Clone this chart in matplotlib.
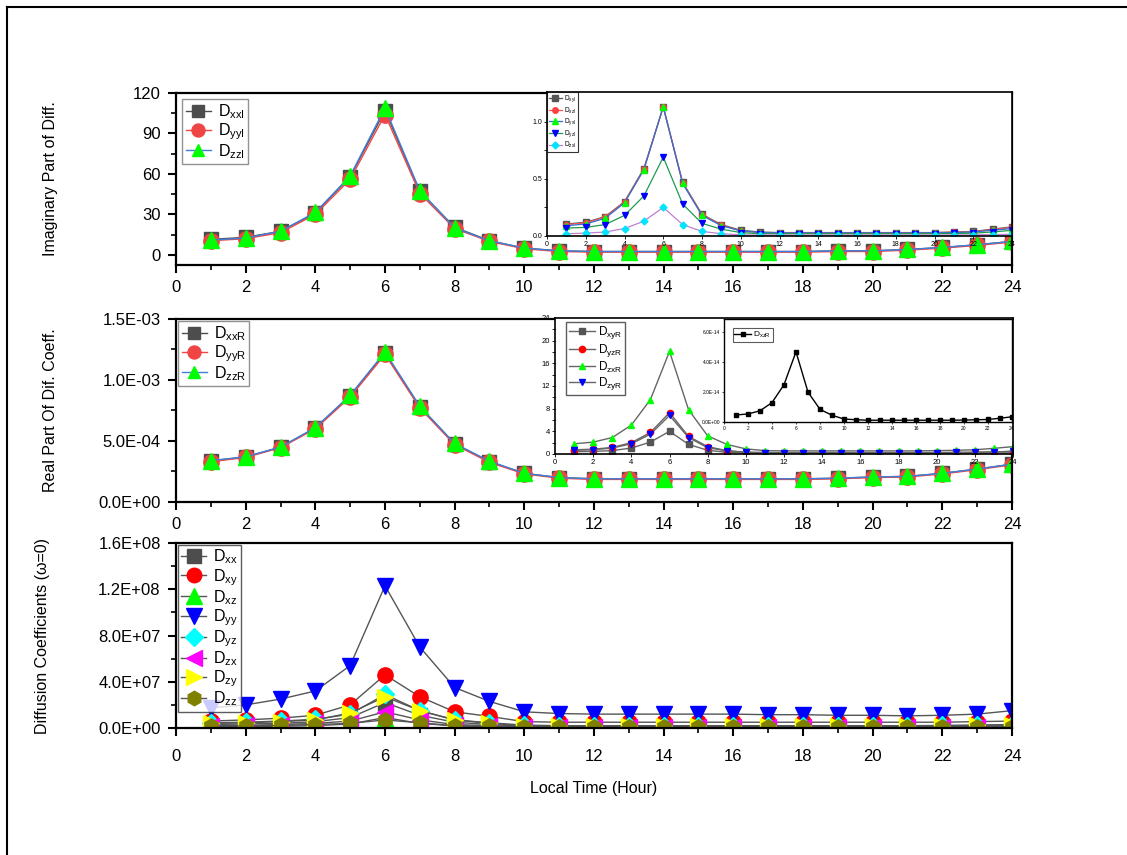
import numpy as np
import matplotlib
matplotlib.use('Agg')
import matplotlib.pyplot as plt
from matplotlib.lines import Line2D
from matplotlib.ticker import MultipleLocator, FormatStrFormatter

plt.rcParams['font.family'] = ['Liberation Sans', 'DejaVu Sans']
plt.rcParams['mathtext.default'] = 'regular'

hours = list(range(1, 25))

# top panel: imaginary part of diffusion coefficients
d_xxI = [11.5, 13, 17.5, 31, 58, 107, 47, 20.5, 10.5, 5, 3, 2.5, 2.5, 2.5, 2.5, 2.5, 2.5, 2.5, 3, 3, 4, 5.5, 7.5, 10]
d_yyI = [10.5, 12, 16.5, 30, 56, 104, 45.5, 19.5, 10, 4.5, 2.5, 2, 2, 2, 2, 2, 2, 2, 2.5, 2.5, 3.5, 5, 7, 9.5]
d_zzI = [11, 12.5, 17.5, 31.5, 58.5, 109, 47.5, 20, 10.5, 5, 3, 2.5, 2.5, 2.5, 2.5, 2.5, 2.5, 2.5, 3, 3, 4, 5.5, 7.5, 10]

# top inset
d_xyI = [0.105, 0.12, 0.17, 0.30, 0.59, 1.13, 0.47, 0.19, 0.10, 0.05, 0.035, 0.03, 0.03, 0.03, 0.03, 0.03, 0.03, 0.03, 0.03, 0.03, 0.035, 0.04, 0.06, 0.08]
d_xzI = [0.10, 0.115, 0.165, 0.295, 0.585, 1.13, 0.465, 0.185, 0.095, 0.045, 0.03, 0.028, 0.028, 0.028, 0.028, 0.028, 0.028, 0.028, 0.028, 0.03, 0.033, 0.038, 0.055, 0.075]
d_yxI = [0.09, 0.105, 0.155, 0.29, 0.58, 1.13, 0.46, 0.18, 0.09, 0.045, 0.03, 0.027, 0.027, 0.027, 0.027, 0.027, 0.027, 0.027, 0.027, 0.028, 0.03, 0.035, 0.05, 0.065]
d_yzI = [0.07, 0.075, 0.10, 0.18, 0.35, 0.69, 0.28, 0.11, 0.06, 0.03, 0.02, 0.02, 0.02, 0.02, 0.02, 0.02, 0.02, 0.02, 0.02, 0.02, 0.022, 0.025, 0.035, 0.05]
d_zxI = [0.02, 0.025, 0.035, 0.065, 0.13, 0.25, 0.10, 0.04, 0.02, 0.01, 0.008, 0.008, 0.008, 0.008, 0.008, 0.008, 0.008, 0.008, 0.008, 0.008, 0.009, 0.01, 0.012, 0.015]

# middle panel: real part
d_xxR = [3.36e-4, 3.7e-4, 4.5e-4, 6.05e-4, 8.7e-4, 1.22e-3, 7.8e-4, 4.75e-4, 3.3e-4, 2.35e-4, 2.0e-4, 1.9e-4, 1.9e-4, 1.9e-4, 1.9e-4, 1.9e-4, 1.9e-4, 1.9e-4, 1.95e-4, 2.05e-4, 2.1e-4, 2.35e-4, 2.7e-4, 3.1e-4]
d_yyR = [3.3e-4, 3.65e-4, 4.45e-4, 6.0e-4, 8.6e-4, 1.21e-3, 7.7e-4, 4.7e-4, 3.25e-4, 2.3e-4, 1.95e-4, 1.85e-4, 1.85e-4, 1.85e-4, 1.85e-4, 1.85e-4, 1.85e-4, 1.85e-4, 1.9e-4, 2.0e-4, 2.05e-4, 2.3e-4, 2.65e-4, 3.05e-4]
d_zzR = [3.4e-4, 3.7e-4, 4.5e-4, 6.1e-4, 8.75e-4, 1.23e-3, 7.85e-4, 4.8e-4, 3.35e-4, 2.35e-4, 2.0e-4, 1.9e-4, 1.9e-4, 1.9e-4, 1.9e-4, 1.9e-4, 1.9e-4, 1.9e-4, 1.95e-4, 2.05e-4, 2.1e-4, 2.35e-4, 2.7e-4, 3.1e-4]

# middle inset 1
d_xyR = [0.4, 0.45, 0.6, 1.05, 2.1, 4.0, 1.7, 0.65, 0.3, 0.15, 0.12, 0.12, 0.12, 0.12, 0.12, 0.12, 0.12, 0.12, 0.12, 0.12, 0.13, 0.14, 0.17, 0.2]
d_yzR = [0.75, 0.85, 1.15, 2.0, 3.8, 7.3, 3.1, 1.3, 0.6, 0.3, 0.25, 0.25, 0.25, 0.25, 0.25, 0.25, 0.25, 0.25, 0.25, 0.25, 0.27, 0.3, 0.37, 0.45]
d_zxR = [1.8, 2.1, 2.9, 5.1, 9.6, 18.1, 7.8, 3.2, 1.7, 0.9, 0.6, 0.55, 0.55, 0.55, 0.55, 0.55, 0.55, 0.55, 0.55, 0.6, 0.65, 0.75, 1.0, 1.3]
d_zyR = [0.65, 0.75, 1.05, 1.8, 3.5, 6.8, 2.9, 1.1, 0.55, 0.3, 0.25, 0.25, 0.25, 0.25, 0.25, 0.25, 0.25, 0.25, 0.25, 0.25, 0.27, 0.3, 0.35, 0.5]

# middle inset 2
d_xzR = [0.47e-14, 0.54e-14, 0.75e-14, 1.3e-14, 2.5e-14, 4.7e-14, 2.0e-14, 0.85e-14, 0.45e-14, 0.2e-14, 0.15e-14, 0.12e-14, 0.12e-14, 0.12e-14, 0.12e-14, 0.12e-14, 0.12e-14, 0.12e-14, 0.12e-14, 0.13e-14, 0.15e-14, 0.17e-14, 0.25e-14, 0.35e-14]

# bottom panel: omega = 0
d_xx = [3e6, 3.5e6, 4e6, 5.5e6, 9e6, 2.2e7, 1.1e7, 5e6, 3e6, 1.5e6, 1.2e6, 1.2e6, 1.2e6, 1.2e6, 1.2e6, 1.2e6, 1.2e6, 1.2e6, 1.2e6, 1.2e6, 1.2e6, 1.3e6, 1.5e6, 2e6]
d_xy = [6e6, 7e6, 8.5e6, 1.1e7, 2.0e7, 4.6e7, 2.7e7, 1.4e7, 1.0e7, 5.5e6, 5e6, 5e6, 5e6, 5e6, 5e6, 5e6, 5e6, 5e6, 5e6, 5e6, 5e6, 5e6, 5.5e6, 6e6]
d_xz = [1e6, 1.2e6, 1.5e6, 2e6, 3.5e6, 9e6, 4e6, 1.8e6, 1e6, 5e5, 4e5, 4e5, 4e5, 4e5, 4e5, 4e5, 4e5, 4e5, 4e5, 4e5, 4e5, 4e5, 5e5, 6e5]
d_yy = [1.75e7, 2.0e7, 2.5e7, 3.2e7, 5.4e7, 1.23e8, 7.0e7, 3.5e7, 2.3e7, 1.4e7, 1.25e7, 1.2e7, 1.2e7, 1.2e7, 1.2e7, 1.2e7, 1.15e7, 1.15e7, 1.1e7, 1.1e7, 1.05e7, 1.1e7, 1.2e7, 1.5e7]
d_yz = [4.5e6, 5e6, 6e6, 7.5e6, 1.2e7, 2.9e7, 1.5e7, 7e6, 4.5e6, 2.5e6, 2e6, 2e6, 2e6, 2e6, 2e6, 2e6, 2e6, 2e6, 2e6, 2e6, 2e6, 2.2e6, 2.5e6, 3e6]
d_zx = [2e6, 2.3e6, 3e6, 4e6, 6e6, 1.4e7, 7e6, 3e6, 2e6, 1e6, 8e5, 8e5, 8e5, 8e5, 8e5, 8e5, 8e5, 8e5, 8e5, 8e5, 8e5, 9e5, 1e6, 1.2e6]
d_zy = [4e6, 4.5e6, 5.5e6, 7e6, 1.3e7, 2.7e7, 1.5e7, 7e6, 4e6, 2e6, 1.8e6, 1.8e6, 1.8e6, 1.8e6, 1.8e6, 1.8e6, 1.8e6, 1.8e6, 1.8e6, 1.8e6, 1.8e6, 2e6, 2.3e6, 2.8e6]
d_zz = [1.5e6, 1.8e6, 2.2e6, 3e6, 4e6, 7e6, 4.5e6, 2e6, 1.3e6, 8e5, 6e5, 6e5, 6e5, 6e5, 6e5, 6e5, 6e5, 6e5, 6e5, 6e5, 6e5, 7e5, 8e5, 1e6]

fig = plt.figure(figsize=(11.27, 8.55), dpi=100)

# border lines around the page (top and left only)
fig.add_artist(Line2D([7/1127, 1], [1-7/855, 1-7/855], transform=fig.transFigure, color='k', lw=1.5))
fig.add_artist(Line2D([7/1127, 7/1127], [0, 1-7/855], transform=fig.transFigure, color='k', lw=1.5))

L, W = 176/1127, 836/1127
ax1 = fig.add_axes([L, 1-265/855, W, 172/855])
ax2 = fig.add_axes([L, 1-502/855, W, 183/855])
ax3 = fig.add_axes([L, 1-728/855, W, 185/855])


def style_main(ax):
    ax.set_xlim(0, 24)
    ax.xaxis.set_major_locator(MultipleLocator(2))
    ax.xaxis.set_minor_locator(MultipleLocator(1))
    for s in ax.spines.values():
        s.set_linewidth(1.6)
    ax.tick_params(which='major', direction='out', length=6, width=1.5, labelsize=12, pad=5)
    ax.tick_params(which='minor', direction='out', length=3.5, width=1.2)


def small_legend(ax, **kw):
    lg = ax.legend(loc='upper left', fancybox=False, handlelength=1.6, borderpad=0.2,
                   handletextpad=0.4, **kw)
    lg.get_frame().set_linewidth(1)
    return lg


gray, red, green, lblue = '#4d4d4d', '#f04545', '#00ff00', '#3f7fd8'

# ---- top panel
ax1.plot(hours, d_xxI, '-s', color=gray, mfc=gray, mec=gray, ms=10, lw=1, label=r'D$_{xxI}$')
ax1.plot(hours, d_yyI, '-o', color=red, mfc=red, mec=red, ms=11, lw=1, label=r'D$_{yyI}$')
ax1.plot(hours, d_zzI, '-^', color=lblue, mfc=green, mec=green, ms=11, lw=1, label=r'D$_{zzI}$')
style_main(ax1)
ax1.set_ylim(-7.5, 120)
ax1.yaxis.set_major_locator(MultipleLocator(30))
ax1.yaxis.set_minor_locator(MultipleLocator(15))
ax1.set_ylabel('Imaginary Part of Diff.', fontsize=11.5)
ax1.yaxis.set_label_coords(-0.141, 0.5)
small_legend(ax1, fontsize=11.5, edgecolor='#777777', borderaxespad=0.4, markerscale=0.85, labelspacing=0.0)

axi = fig.add_axes([547/1127, 1-236/855, 465/1127, 144/855])
ms_i = 4
axi.plot(hours, d_xyI, '-s', color='#555555', mfc='#555555', mec='#555555', ms=ms_i, lw=0.9, label=r'D$_{xyI}$')
axi.plot(hours, d_xzI, '-o', color='#ff5555', mfc='#ff4040', mec='#ff4040', ms=ms_i, lw=0.9, label=r'D$_{xzI}$')
axi.plot(hours, d_yxI, '-^', color='#2f6fd0', mfc=green, mec=green, ms=ms_i+0.5, lw=0.9, label=r'D$_{yxI}$')
axi.plot(hours, d_yzI, '-v', color='#1f9a50', mfc='#0000ff', mec='#0000ff', ms=ms_i+0.5, lw=0.9, label=r'D$_{yzI}$')
axi.plot(hours, d_zxI, '-D', color='#c080d0', mfc='#00e5ff', mec='#00e5ff', ms=ms_i-0.5, lw=0.9, label=r'D$_{zxI}$')
axi.set_xlim(0, 24)
axi.set_ylim(0, 1.26)
axi.xaxis.set_major_locator(MultipleLocator(2))
axi.yaxis.set_major_locator(MultipleLocator(0.5))
axi.yaxis.set_minor_locator(MultipleLocator(0.25))
axi.yaxis.set_major_formatter(FormatStrFormatter('%.1f'))
axi.tick_params(which='both', labelsize=5, length=2, width=0.6, pad=1.5)
for s in axi.spines.values():
    s.set_linewidth(1.2)
lg = axi.legend(loc='upper left', fontsize=4.8, fancybox=False, edgecolor='k', handlelength=2,
                borderpad=0.2, labelspacing=0.15, handletextpad=0.3, borderaxespad=0.05)
lg.get_frame().set_linewidth(0.8)

# ---- middle panel
ax2.plot(hours, d_xxR, '-s', color=gray, mfc=gray, mec=gray, ms=10, lw=1, label=r'D$_{xxR}$')
ax2.plot(hours, d_yyR, '-o', color=red, mfc=red, mec=red, ms=11, lw=1, label=r'D$_{yyR}$')
ax2.plot(hours, d_zzR, '-^', color=lblue, mfc=green, mec=green, ms=11, lw=1, label=r'D$_{zzR}$')
style_main(ax2)
ax2.set_ylim(0, 1.5e-3)
ax2.yaxis.set_major_locator(MultipleLocator(5e-4))
ax2.yaxis.set_minor_locator(MultipleLocator(2.5e-4))
ax2.yaxis.set_major_formatter(FormatStrFormatter('%.1E'))
ax2.set_ylabel('Real Part Of Dif. Coeff.', fontsize=11.5)
ax2.yaxis.set_label_coords(-0.141, 0.5)
small_legend(ax2, fontsize=11.5, edgecolor='#777777', borderaxespad=0.15, markerscale=0.85, labelspacing=0.0)

axm = fig.add_axes([555/1127, 1-454/855, 458/1127, 136/855])
lc = '#666666'
axm.plot(hours, d_xyR, '-s', color=lc, mfc='#555555', mec='#555555', ms=4.5, lw=1, label=r'D$_{xyR}$')
axm.plot(hours, d_yzR, '-o', color=lc, mfc='#ff0000', mec='#ff0000', ms=4.5, lw=1, label=r'D$_{yzR}$')
axm.plot(hours, d_zxR, '-^', color=lc, mfc=green, mec=green, ms=5, lw=1, label=r'D$_{zxR}$')
axm.plot(hours, d_zyR, '-v', color=lc, mfc='#0000ff', mec='#0000ff', ms=5, lw=1, label=r'D$_{zyR}$')
axm.set_xlim(0, 24)
axm.set_ylim(0, 24)
axm.xaxis.set_major_locator(MultipleLocator(2))
axm.yaxis.set_major_locator(MultipleLocator(4))
axm.yaxis.set_minor_locator(MultipleLocator(2))
axm.tick_params(which='both', labelsize=5.5, length=2, width=0.6, pad=1.5)
for s in axm.spines.values():
    s.set_linewidth(1.2)
lg = axm.legend(loc='upper left', bbox_to_anchor=(0.025, 0.97), fontsize=8.5, fancybox=False, edgecolor='#333333',
                handlelength=2.2, borderpad=0.2, labelspacing=0.05, handletextpad=0.3, borderaxespad=0)
lg.get_frame().set_linewidth(1)

axz = fig.add_axes([724/1127, 1-422/855, 288/1127, 103/855])
axz.plot(hours, d_xzR, '-s', color='k', mfc='k', mec='k', ms=3.2, lw=1, label=r'D$_{xzR}$')
axz.set_xlim(0, 24)
axz.set_ylim(0, 6.9e-14)
axz.xaxis.set_major_locator(MultipleLocator(2))
axz.yaxis.set_major_locator(MultipleLocator(2e-14))
axz.yaxis.set_major_formatter(FormatStrFormatter('%.1E'))
axz.tick_params(which='both', labelsize=3.5, length=1.5, width=0.5, pad=1.5)
for s in axz.spines.values():
    s.set_linewidth(1)
lg = axz.legend(loc='upper left', bbox_to_anchor=(0.03, 0.91), fontsize=6, fancybox=False, edgecolor='#333333',
                handlelength=2, borderpad=0.2, handletextpad=0.3, borderaxespad=0)
lg.get_frame().set_linewidth(0.8)

# ---- bottom panel
bl = '#555555'
series = [
    (d_xx, 's', '#4d4d4d', 10, r'D$_{xx}$'),
    (d_xy, 'o', '#ff0000', 11, r'D$_{xy}$'),
    (d_xz, '^', '#00ff00', 12, r'D$_{xz}$'),
    (d_yy, 'v', '#0000ff', 12, r'D$_{yy}$'),
    (d_yz, 'D', '#00ffff', 9.5, r'D$_{yz}$'),
    (d_zx, '<', '#ff00ff', 12, r'D$_{zx}$'),
    (d_zy, '>', '#ffff00', 12, r'D$_{zy}$'),
    (d_zz, 'h', '#808000', 11, r'D$_{zz}$'),
]
for vals, mk, col, ms, lab in series:
    ax3.plot(hours, vals, '-', marker=mk, color=bl, mfc=col, mec=col, ms=ms, lw=1, label=lab)
style_main(ax3)
ax3.tick_params(axis='x', which='major', pad=9)
ax3.set_ylim(0, 1.6e8)
ax3.yaxis.set_major_locator(MultipleLocator(4e7))
ax3.yaxis.set_minor_locator(MultipleLocator(2e7))
ax3.yaxis.set_major_formatter(FormatStrFormatter('%.1E'))
ax3.set_ylabel('Diffusion Coefficients (\u03c9=0)', fontsize=11.5)
ax3.yaxis.set_label_coords(-0.151, 0.5)
ax3.set_xlabel('Local Time (Hour)', fontsize=11.5, labelpad=12)
small_legend(ax3, fontsize=11.5, edgecolor='#333333', borderaxespad=0.1, markerscale=0.95, labelspacing=0.03)

fig.savefig('out.png', dpi=100)
